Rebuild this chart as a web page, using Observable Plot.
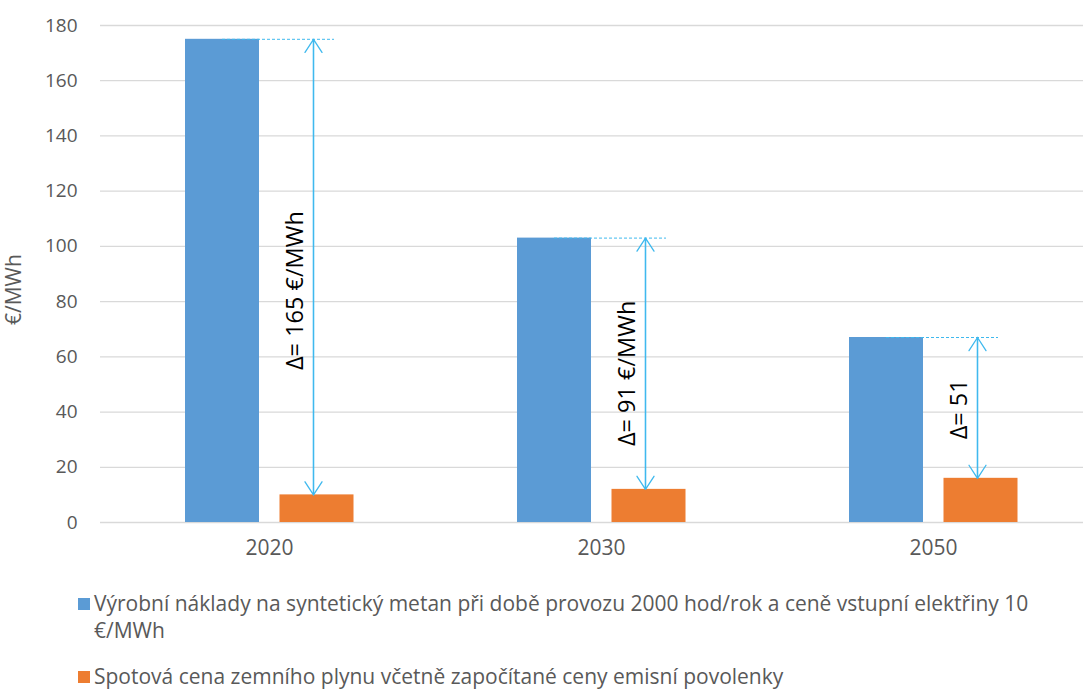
<!DOCTYPE html>
<html>
<head>
<meta charset="utf-8">
<script src="https://cdn.jsdelivr.net/npm/d3@7"></script>
<script src="https://cdn.jsdelivr.net/npm/@observablehq/plot@0.6"></script>
<style>
  body { margin: 0; background: #fff; font-family: "Open Sans", sans-serif; overflow: hidden; }
  #legend { margin-left: 78px; margin-top: 25px; color: #595959; font-size: 21px; line-height: 27px; }
  .item { position: relative; padding-left: 16px; margin-bottom: 19px; white-space: nowrap; }
  .sw { position: absolute; left: 0; top: 8px; width: 12px; height: 12px; }
</style>
</head>
<body>
<div id="chart"></div>
<div id="legend"></div>
<script>
const years = ["2020", "2030", "2050"];
const synthMethane = [175, 103, 67];
const gasSpot = [10, 12, 16];
const deltaLabels = ["Δ= 165 €/MWh", "Δ= 91 €/MWh", "Δ= 51"];
const labelAt = [84, 54, 41];
const yTicks = [0, 20, 40, 60, 80, 100, 120, 140, 160, 180];
const yTitle = "€/MWh";
const seriesNames = [
  "Výrobní náklady na syntetický metan při době provozu 2000 hod/rok a ceně vstupní elektřiny 10\n€/MWh",
  "Spotová cena zemního plynu včetně započítané ceny emisní povolenky"
];
const seriesColors = ["#5b9bd5", "#ed7d31"];
const arrowColor = "#3fb9ee";

const rows = years.map((y, i) => ({
  year: y, blue: synthMethane[i], orange: gasSpot[i], label: deltaLabels[i], ly: labelAt[i]
}));

const chart = Plot.plot({
  width: 1083,
  height: 565,
  marginTop: 25,
  marginBottom: 43,
  marginLeft: 100,
  marginRight: 0,
  style: { fontFamily: "'Open Sans', sans-serif", fontSize: "18px", color: "#595959", background: "#fff" },
  x: { domain: years, range: [103, 1099], padding: 0 },
  y: { domain: [0, 180] },
  marks: [
    Plot.gridY(yTicks, { stroke: "#d9d9d9", strokeOpacity: 1, strokeWidth: 1.3 }),
    Plot.axisY(yTicks, { tickSize: 0, tickPadding: 23, label: null, fontSize: 19, fill: "#595959" }),
    Plot.text([yTitle], { frameAnchor: "left", rotate: -90, dx: -86, dy: 51, fontSize: 21, fill: "#595959" }),
    Plot.axisX({ tickSize: 0, tickPadding: 18, label: null, fontSize: 21, fill: "#595959" }),
    Plot.barY(rows, { x: "year", y: "blue", fill: seriesColors[0], dx: -47, insetLeft: 129, insetRight: 129 }),
    Plot.barY(rows, { x: "year", y: "orange", fill: seriesColors[1], dx: 47.5, insetLeft: 129, insetRight: 129 }),
    Plot.tickY(rows, { x: "year", y: "blue", insetLeft: 119, insetRight: 101, stroke: arrowColor, strokeWidth: 1, strokeDasharray: "3,2" }),
    Plot.arrow(rows, { x: "year", y1: "orange", y2: "blue", dx: 44, stroke: arrowColor, strokeWidth: 1.3, headLength: 18, headAngle: 66 }),
    Plot.arrow(rows, { x: "year", y1: "blue", y2: "orange", dx: 44, stroke: arrowColor, strokeWidth: 1.3, headLength: 18, headAngle: 66 }),
    Plot.text(rows, { x: "year", y: "ly", text: "label", rotate: -90, dx: 26, fill: "#000", fontSize: 23.5 })
  ]
});
document.getElementById("chart").appendChild(chart);

const legend = document.getElementById("legend");
seriesNames.forEach((name, i) => {
  const d = document.createElement("div");
  d.className = "item";
  const sw = document.createElement("span");
  sw.className = "sw";
  sw.style.background = seriesColors[i];
  d.appendChild(sw);
  name.split("\n").forEach((line, j) => {
    if (j > 0) d.appendChild(document.createElement("br"));
    d.appendChild(document.createTextNode(line));
  });
  legend.appendChild(d);
});
</script>
</body>
</html>
